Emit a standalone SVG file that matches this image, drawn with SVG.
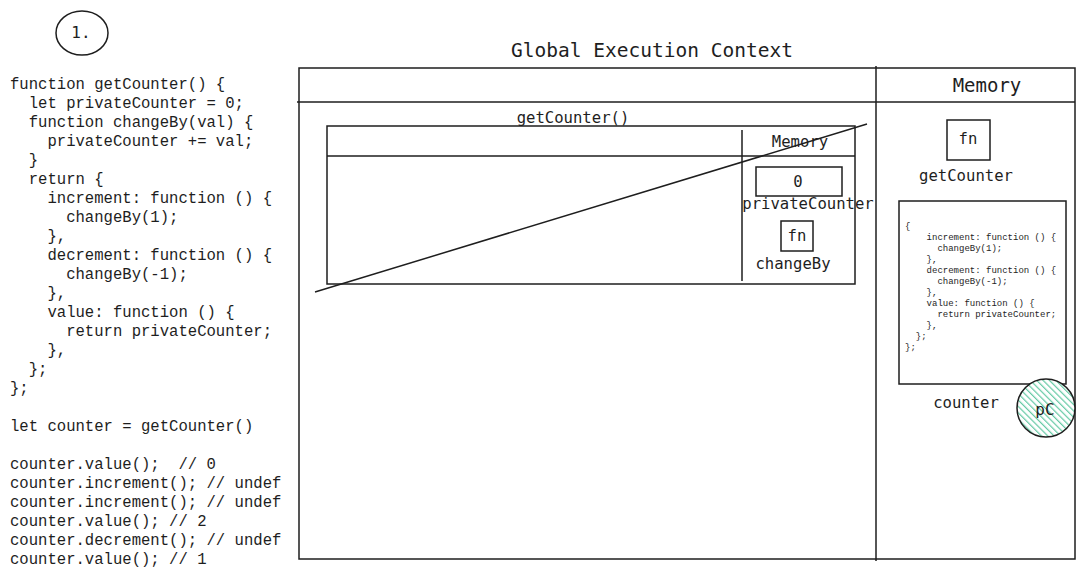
<svg xmlns="http://www.w3.org/2000/svg" width="1086" height="578" viewBox="0 0 1086 578">
<style>
.code{font-family:"Liberation Mono","DejaVu Sans Mono",monospace;font-size:15.6px;fill:#1e1e1e;white-space:pre}
.lbl{font-family:"DejaVu Sans Mono","Liberation Mono",monospace;fill:#1e1e1e;text-anchor:middle}
.sm{font-family:"Liberation Mono","DejaVu Sans Mono",monospace;font-size:9px;fill:#1e1e1e;white-space:pre}
.box{fill:none;stroke:#1e1e1e;stroke-width:1.5}
</style>
<defs>
<pattern id="hatch" patternUnits="userSpaceOnUse" width="4.5" height="4.5" patternTransform="rotate(-45)">
<rect width="4.5" height="4.5" fill="#ffffff"/>
<line x1="0" y1="0" x2="0" y2="4.5" stroke="#63c9a4" stroke-width="2.4"/>
</pattern>
</defs>
<rect width="1086" height="578" fill="#ffffff"/>

<g id="step-marker">
<ellipse cx="82" cy="33" rx="26" ry="22" class="box"/>
<text class="lbl" x="81" y="38" font-size="16">1.</text>
</g>

<g id="source-code">
<text class="code" x="10" y="89">function getCounter() {</text>
<text class="code" x="10" y="108">  let privateCounter = 0;</text>
<text class="code" x="10" y="127">  function changeBy(val) {</text>
<text class="code" x="10" y="146">    privateCounter += val;</text>
<text class="code" x="10" y="165">  }</text>
<text class="code" x="10" y="184">  return {</text>
<text class="code" x="10" y="203">    increment: function () {</text>
<text class="code" x="10" y="222">      changeBy(1);</text>
<text class="code" x="10" y="241">    },</text>
<text class="code" x="10" y="260">    decrement: function () {</text>
<text class="code" x="10" y="279">      changeBy(-1);</text>
<text class="code" x="10" y="298">    },</text>
<text class="code" x="10" y="317">    value: function () {</text>
<text class="code" x="10" y="336">      return privateCounter;</text>
<text class="code" x="10" y="355">    },</text>
<text class="code" x="10" y="374">  };</text>
<text class="code" x="10" y="393">};</text>
<text class="code" x="10" y="431">let counter = getCounter()</text>
<text class="code" x="10" y="469">counter.value();  // 0</text>
<text class="code" x="10" y="488">counter.increment(); // undef</text>
<text class="code" x="10" y="507">counter.increment(); // undef</text>
<text class="code" x="10" y="526">counter.value(); // 2</text>
<text class="code" x="10" y="545">counter.decrement(); // undef</text>
<text class="code" x="10" y="564">counter.value(); // 1</text>
</g>

<g id="global-execution-context">
<text class="lbl" x="652" y="57" font-size="19.5">Global Execution Context</text>
<rect x="299" y="68" width="776" height="491" class="box"/>
<line x1="297" y1="102" x2="1075" y2="102" class="box"/>
<line x1="876" y1="66" x2="876" y2="561" class="box"/>
<text class="lbl" x="987" y="92" font-size="19">Memory</text>
</g>

<g id="getcounter-context">
<text class="lbl" x="573" y="123" font-size="15.6">getCounter()</text>
<rect x="327" y="126" width="528" height="158" class="box"/>
<line x1="327" y1="156" x2="855" y2="156" class="box"/>
<line x1="742" y1="130" x2="742" y2="281" class="box"/>
<text class="lbl" x="800" y="147" font-size="15.6">Memory</text>
</g>

<g id="private-counter">
<rect x="756" y="167" width="86" height="29" class="box"/>
<text class="lbl" x="798" y="187" font-size="15.6">0</text>
<text class="lbl" x="808" y="209" font-size="15.6">privateCounter</text>
</g>

<g id="changeby">
<rect x="781" y="221" width="32" height="30" class="box"/>
<text class="lbl" x="797" y="241" font-size="15.6">fn</text>
<text class="lbl" x="793" y="269" font-size="15.6">changeBy</text>
</g>

<g id="getcounter-fn">
<rect x="947" y="120" width="43" height="40" class="box"/>
<text class="lbl" x="968" y="144" font-size="15.6">fn</text>
<text class="lbl" x="966" y="181" font-size="15.6">getCounter</text>
</g>

<g id="counter-object">
<rect x="899" y="201" width="167" height="183" class="box"/>
<text class="sm" x="905" y="229">{</text>
<text class="sm" x="905" y="240">    increment: function () {</text>
<text class="sm" x="905" y="251">      changeBy(1);</text>
<text class="sm" x="905" y="262">    },</text>
<text class="sm" x="905" y="273">    decrement: function () {</text>
<text class="sm" x="905" y="284">      changeBy(-1);</text>
<text class="sm" x="905" y="295">    },</text>
<text class="sm" x="905" y="306">    value: function () {</text>
<text class="sm" x="905" y="317">      return privateCounter;</text>
<text class="sm" x="905" y="328">    },</text>
<text class="sm" x="905" y="339">  };</text>
<text class="sm" x="905" y="350">};</text>
<text class="lbl" x="966" y="408" font-size="15.6">counter</text>
</g>

<g id="pc">
<circle cx="1046" cy="408" r="29" fill="url(#hatch)" stroke="#1e1e1e" stroke-width="1.5"/>
<text class="lbl" x="1045" y="415" font-size="16">pC</text>
</g>

<g id="connectors">
<line x1="315" y1="292" x2="867" y2="124" class="box"/>
</g>
</svg>
